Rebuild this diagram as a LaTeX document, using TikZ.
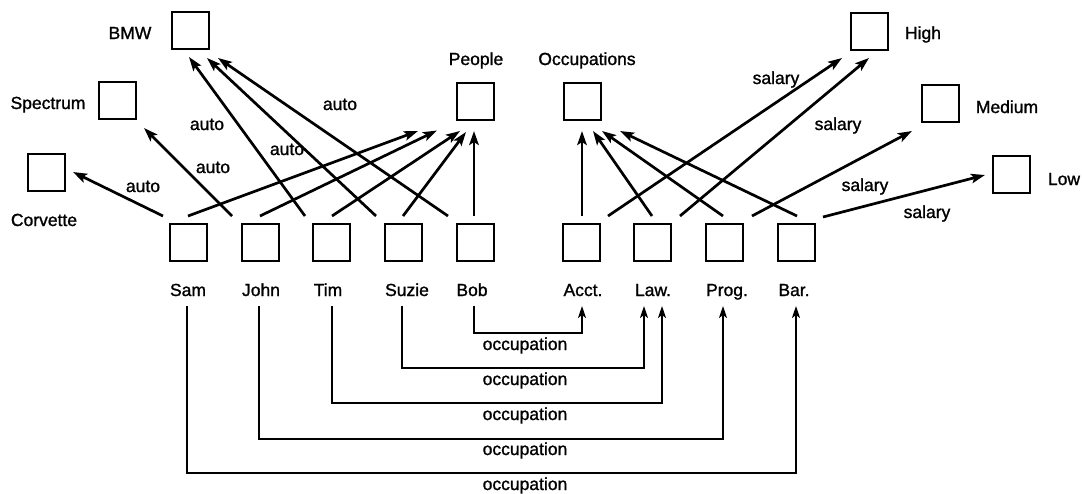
\documentclass[tikz,border=0pt]{standalone}
\usepackage{fontspec}
\setmainfont{Liberation Sans}[FakeBold=1.2]
\usetikzlibrary{arrows.meta}
\begin{document}
\begin{tikzpicture}[x=1pt,y=-1pt,
  box/.style={draw, line width=2pt, minimum size=37pt, inner sep=0pt},
  lbl/.style={font=\fontsize{17.5}{20}\selectfont\addfontfeature{FakeBold=1.2}, anchor=base, inner sep=0pt},
  rel/.style={line width=2.7pt, -{Stealth[length=14pt,width=9.5pt,inset=3pt]}},
  occ/.style={line width=1.9pt, -{Stealth[length=12pt,width=8pt,inset=3pt]}}]
\useasboundingbox (0,0) rectangle (1082,493);

% target boxes
\node[box] (bmw) at (190,30) {};
\node[box] (spec) at (117,100) {};
\node[box] (corv) at (46,172) {};
\node[box] (people) at (475,101) {};
\node[box] (occs) at (582,101) {};
\node[box] (high) at (869,31) {};
\node[box] (medium) at (940,103) {};
\node[box] (low) at (1011,174) {};

% person / occupation boxes
\node[box] (sam) at (188,242) {};
\node[box] (john) at (260,242) {};
\node[box] (tim) at (331,242) {};
\node[box] (suzie) at (403,242) {};
\node[box] (bob) at (475,242) {};
\node[box] (acct) at (581,242) {};
\node[box] (law) at (652,242) {};
\node[box] (prog) at (724,242) {};
\node[box] (bar) at (796,242) {};

% labels of target boxes
\node[lbl] (tbmw) at (130,39) {BMW};
\node[lbl] (tspec) at (48,109) {Spectrum};
\node[lbl] (tcorv) at (44,226) {Corvette};
\node[lbl] (tpeople) at (476,65) {People};
\node[lbl] (toccs) at (587,65) {Occupations};
\node[lbl] (thigh) at (923,39) {High};
\node[lbl] (tmedium) at (1007,113) {Medium};
\node[lbl] (tlow) at (1064,185) {Low};

% labels under boxes
\node[lbl] (tsam) at (188,296) {Sam};
\node[lbl] (tjohn) at (261,296) {John};
\node[lbl] (ttim) at (328,296) {Tim};
\node[lbl] (tsuzie) at (407,296) {Suzie};
\node[lbl] (tbob) at (472,296) {Bob};
\node[lbl] (tacct) at (583,296) {Acct.};
\node[lbl] (tlaw) at (653,296) {Law.};
\node[lbl] (tprog) at (727,296) {Prog.};
\node[lbl] (tbar) at (794,296) {Bar.};

% auto arrows
\draw[rel] ([xshift=-25pt,yshift=6.5pt]sam.north) -- ([xshift=7.5pt]corv.east);
\draw[rel] ([xshift=-28pt,yshift=6.5pt]john.north) -- ([xshift=7.5pt,yshift=-8.5pt]spec.south east);
\draw[rel] ([xshift=-26pt,yshift=6.5pt]tim.north) -- ([xshift=-1pt,yshift=-7.5pt]bmw.south);
\draw[rel] ([xshift=-27pt,yshift=6.5pt]suzie.north) -- ([xshift=17pt,yshift=-8.5pt]bmw.south);
\draw[rel] ([xshift=-27pt,yshift=6.5pt]bob.north) -- ([xshift=8.5pt,yshift=-8.5pt]bmw.south east);

% people arrows
\draw[rel] ([yshift=6.5pt]sam.north) -- ([xshift=-57pt,yshift=-10.5pt]people.south);
\draw[rel] ([yshift=6.5pt]john.north) -- ([xshift=-38pt,yshift=-10pt]people.south);
\draw[rel] ([xshift=1pt,yshift=6.5pt]tim.north) -- ([xshift=-15pt,yshift=-10.5pt]people.south);
\draw[rel] ([yshift=6.5pt]suzie.north) -- ([xshift=-9pt,yshift=-11.5pt]people.south);
\draw[rel] ([xshift=-1pt,yshift=6.5pt]bob.north) -- ([xshift=-1pt,yshift=-10.5pt]people.south);

% occupations arrows
\draw[rel] ([xshift=1pt,yshift=6.5pt]acct.north) -- ([yshift=-10.5pt]occs.south);
\draw[rel] ([yshift=6.5pt]law.north) -- ([xshift=11pt,yshift=-10.5pt]occs.south);
\draw[rel] ([xshift=-1pt,yshift=6.5pt]prog.north) -- ([xshift=20pt,yshift=-10.5pt]occs.south);
\draw[rel] ([xshift=1pt,yshift=6.5pt]bar.north) -- ([xshift=38pt,yshift=-10.5pt]occs.south);

% salary arrows
\draw[rel] ([xshift=27pt,yshift=6.5pt]acct.north) -- ([xshift=-7.5pt,yshift=-7.5pt]high.south west);
\draw[rel] ([xshift=28pt,yshift=6.5pt]law.north) -- ([yshift=-7.5pt]high.south);
\draw[rel] ([xshift=28pt,yshift=6.5pt]prog.north) -- ([xshift=-8.5pt,yshift=-8.5pt]medium.south west);
\draw[rel] ([xshift=27pt,yshift=5.5pt]bar.north) -- ([xshift=-6.5pt,yshift=-1pt]low.west);

% auto labels
\node[lbl] (a1) at (143,192) {auto};
\node[lbl] (a2) at (213,173) {auto};
\node[lbl] (a3) at (207,130) {auto};
\node[lbl] (a4) at (287,155) {auto};
\node[lbl] (a5) at (340,110) {auto};

% salary labels
\node[lbl] (s1) at (776,84) {salary};
\node[lbl] (s2) at (838,130) {salary};
\node[lbl] (s3) at (865,191) {salary};
\node[lbl] (s4) at (927,218) {salary};

% occupation connectors
\draw[occ] ([xshift=-1pt,yshift=-44.5pt]bob.south) -- ++(0,27) -| ([xshift=1pt,yshift=-44.5pt]acct.south);
\draw[occ] ([xshift=-1pt,yshift=-44.5pt]suzie.south) -- ++(0,62) -| ([xshift=-8pt,yshift=-44.5pt]law.south);
\draw[occ] ([xshift=1pt,yshift=-44.5pt]tim.south) -- ++(0,97) -| ([xshift=10pt,yshift=-44.5pt]law.south);
\draw[occ] ([xshift=-1pt,yshift=-44.5pt]john.south) -- ++(0,133) -| ([xshift=-1pt,yshift=-44.5pt]prog.south);
\draw[occ] ([xshift=-1pt,yshift=-44.5pt]sam.south) -- ++(0,167) -| ([yshift=-44.5pt]bar.south);

\node[lbl] (o1) at (525,350) {occupation};
\node[lbl] (o2) at (525,385) {occupation};
\node[lbl] (o3) at (525,420) {occupation};
\node[lbl] (o4) at (525,455) {occupation};
\node[lbl] (o5) at (525,490) {occupation};
\end{tikzpicture}
\end{document}
